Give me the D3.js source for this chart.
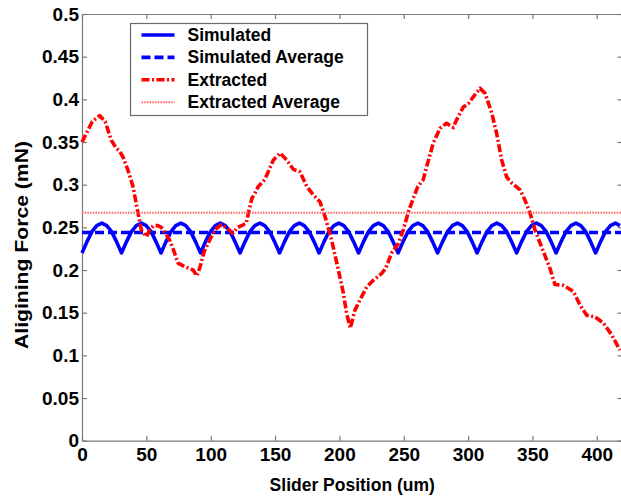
<!DOCTYPE html>
<html>
<head>
<meta charset="utf-8">
<script src="https://cdn.jsdelivr.net/npm/d3@7/dist/d3.min.js"></script>
<style>
  body { margin: 0; background: #fff; }
  text { font-family: "Liberation Sans", Arial, sans-serif; font-weight: bold; }
</style>
</head>
<body>
<div id="chart-area"></div>
<script>
/*
*    aligning force chart
*/

// x ticks and y ticks
const xTicks = [0, 50, 100, 150, 200, 250, 300, 350, 400];
const yTicks = [0, 0.05, 0.1, 0.15, 0.2, 0.25, 0.3, 0.35, 0.4, 0.45, 0.5];

// simulated force (um, mN)
const simX = [0.0, 3.8, 7.7, 11.5, 15.4, 19.2, 23.0, 26.9, 30.7, 34.5, 38.4, 42.2, 46.1, 49.9, 53.7, 57.6,
    61.4, 65.2, 69.1, 72.9, 76.8, 80.6, 84.4, 88.3, 92.1, 95.9, 99.8, 103.6, 107.5, 111.3, 115.1, 119.0,
    122.8, 126.6, 130.5, 134.3, 138.2, 142.0, 145.8, 149.7, 153.5, 157.3, 161.2, 165.0, 168.9, 172.7, 176.5, 180.4,
    184.2, 188.0, 191.9, 195.7, 199.6, 203.4, 207.2, 211.1, 214.9, 218.7, 222.6, 226.4, 230.3, 234.1, 237.9, 241.8,
    245.6, 249.4, 253.3, 257.1, 261.0, 264.8, 268.6, 272.5, 276.3, 280.1, 284.0, 287.8, 291.7, 295.5, 299.3, 303.2,
    307.0, 310.8, 314.7, 318.5, 322.4, 326.2, 330.0, 333.9, 337.7, 341.5, 345.4, 349.2, 353.1, 356.9, 360.7, 364.6,
    368.4, 372.2, 376.1, 379.9, 383.8, 387.6, 391.4, 395.3, 399.1, 402.9, 406.8, 410.6, 414.5, 418.0];
const simY = [0.220, 0.233, 0.245, 0.252, 0.255, 0.252, 0.245, 0.233, 0.220, 0.233, 0.245, 0.252, 0.255, 0.252, 0.245, 0.233,
    0.220, 0.233, 0.245, 0.252, 0.255, 0.252, 0.245, 0.233, 0.220, 0.233, 0.245, 0.252, 0.255, 0.252, 0.245, 0.233,
    0.220, 0.233, 0.245, 0.252, 0.255, 0.252, 0.245, 0.233, 0.220, 0.233, 0.245, 0.252, 0.255, 0.252, 0.245, 0.233,
    0.220, 0.233, 0.245, 0.252, 0.255, 0.252, 0.245, 0.233, 0.220, 0.233, 0.245, 0.252, 0.255, 0.252, 0.245, 0.233,
    0.220, 0.233, 0.245, 0.252, 0.255, 0.252, 0.245, 0.233, 0.220, 0.233, 0.245, 0.252, 0.255, 0.252, 0.245, 0.233,
    0.220, 0.233, 0.245, 0.252, 0.255, 0.252, 0.245, 0.233, 0.220, 0.233, 0.245, 0.252, 0.255, 0.252, 0.245, 0.233,
    0.220, 0.233, 0.245, 0.252, 0.255, 0.252, 0.245, 0.233, 0.220, 0.233, 0.245, 0.252, 0.255, 0.252];
const simAverage = 0.244;

// extracted force (um, mN)
const extX = [0, 4, 8, 13.7, 18, 22.8, 26, 29.3, 32, 35.7, 39.6, 43.5, 46.1, 50, 53, 55.5,
    59, 61.6, 65, 68.1, 71, 74.6, 79.8, 86.3, 89.3, 92, 94.8, 97.9, 103.1, 108.3, 113, 117.3,
    121, 125.3, 127.7, 129.2, 132, 134.4, 137, 140.9, 143.5, 148.7, 153.9, 159, 164.2, 169.4, 174.6, 179.7,
    184.9, 188.8, 194, 199.2, 203.1, 205.6, 208.5, 212.1, 216, 221.2, 226.4, 232.9, 236, 240.6, 245.8, 249.7,
    253.6, 257.4, 261, 265.2, 267.8, 273, 278.2, 283.4, 288.5, 291.1, 296.3, 300.2, 304.1, 309.3, 313.2, 318.4,
    322.2, 326.1, 330, 333.9, 340.4, 344.2, 348.1, 352, 358.4, 363.6, 367.5, 374, 381.8, 387, 392.2, 398.6,
    405.1, 411.6, 418];
const extY = [0.350, 0.362, 0.374, 0.381, 0.374, 0.352, 0.344, 0.339, 0.332, 0.317, 0.298, 0.267, 0.247, 0.239, 0.248, 0.252,
    0.252, 0.250, 0.243, 0.235, 0.224, 0.208, 0.204, 0.200, 0.193, 0.205, 0.221, 0.231, 0.247, 0.253, 0.249, 0.243,
    0.250, 0.253, 0.255, 0.266, 0.284, 0.290, 0.298, 0.304, 0.311, 0.329, 0.337, 0.329, 0.318, 0.315, 0.298, 0.288,
    0.280, 0.263, 0.235, 0.200, 0.173, 0.149, 0.132, 0.153, 0.165, 0.180, 0.188, 0.196, 0.202, 0.220, 0.231, 0.247,
    0.268, 0.284, 0.298, 0.306, 0.321, 0.349, 0.366, 0.372, 0.367, 0.376, 0.391, 0.395, 0.403, 0.413, 0.407, 0.384,
    0.360, 0.329, 0.309, 0.302, 0.294, 0.282, 0.267, 0.247, 0.222, 0.202, 0.183, 0.182, 0.175, 0.159, 0.147, 0.145,
    0.138, 0.124, 0.106];
const extAverage = 0.267;

const legendLabels = ["Simulated", "Simulated Average", "Extracted", "Extracted Average"];

const svgWidth = 621;
const svgHeight = 497;
const margin = {left: 82, top: 14, right: -1.5, bottom: 56.3};
const width = svgWidth - margin.left - margin.right;
const height = svgHeight - margin.top - margin.bottom;

const svg = d3.select("#chart-area")
    .append("svg")
    .attr("width", svgWidth)
    .attr("height", svgHeight);

svg.append("rect")
    .attr("width", "100%")
    .attr("height", "100%")
    .attr("fill", "white");

const g = svg.append("g")
    .attr("transform", "translate(" + margin.left + "," + margin.top + ")");

const x = d3.scaleLinear()
    .domain([0, 420])
    .range([0, width]);

const y = d3.scaleLinear()
    .domain([0, 0.5])
    .range([height, 0]);

// axes, ticks pointing inward
g.append("g")
    .attr("class", "axis")
    .attr("transform", "translate(0," + height + ")")
    .call(d3.axisBottom(x).tickValues(xTicks).tickSizeInner(-5).tickSizeOuter(0).tickPadding(7));

g.append("g")
    .attr("class", "axis")
    .call(d3.axisTop(x).tickValues(xTicks).tickSizeInner(-5).tickSizeOuter(0).tickFormat(""));

g.append("g")
    .attr("class", "axis")
    .call(d3.axisLeft(y).tickValues(yTicks).tickSizeInner(-5).tickSizeOuter(0).tickPadding(3)
        .tickFormat(d => d3.format("")(+d.toFixed(2))));

g.append("g")
    .attr("class", "axis")
    .attr("transform", "translate(" + width + ",0)")
    .call(d3.axisRight(y).tickValues(yTicks).tickSizeInner(-5).tickSizeOuter(0).tickFormat(""));

g.selectAll(".axis path, .axis line")
    .attr("stroke", "#7a7a7a")
    .attr("stroke-width", 1.2);

g.selectAll(".axis text")
    .attr("fill", "black")
    .attr("font-size", "19px")
    .attr("font-family", "'Liberation Sans', Arial, sans-serif")
    .attr("font-weight", "bold");

// axis labels
g.append("text")
    .attr("x", width / 2)
    .attr("y", height + 50)
    .attr("font-size", "17.5px")
    .attr("text-anchor", "middle")
    .text("Slider Position (um)");

g.append("text")
    .attr("x", -231)
    .attr("y", -54)
    .attr("font-size", "18px")
    .attr("text-anchor", "middle")
    .attr("transform", "rotate(-90)")
    .attr("textLength", 208)
    .attr("lengthAdjust", "spacingAndGlyphs")
    .text("Aligining Force (mN)");

// lines
const simData = simX.map((d, i) => ({x: d, y: simY[i]}));
const extData = extX.map((d, i) => ({x: d, y: extY[i]}));

const line = d3.line()
    .x(d => x(d.x))
    .y(d => y(d.y));

const styles = [
    {color: "#0000ff", width: 3.6, dash: null},
    {color: "#0000ff", width: 3.6, dash: "9,4"},
    {color: "#ff0000", width: 3.6, dash: "8,2.5,2,2.5"},
    {color: "#ff6060", width: 2, dash: "1.5,1.2"}
];

g.append("path")
    .datum(simData)
    .attr("d", line)
    .attr("fill", "none")
    .attr("stroke", styles[0].color)
    .attr("stroke-width", styles[0].width)
    .attr("stroke-linejoin", "round");

g.append("line")
    .attr("x1", x(0))
    .attr("x2", x(420))
    .attr("y1", y(simAverage))
    .attr("y2", y(simAverage))
    .attr("stroke", styles[1].color)
    .attr("stroke-width", styles[1].width)
    .attr("stroke-dasharray", styles[1].dash);

g.append("path")
    .datum(extData)
    .attr("d", line)
    .attr("fill", "none")
    .attr("stroke", styles[2].color)
    .attr("stroke-width", styles[2].width)
    .attr("stroke-dasharray", styles[2].dash)
    .attr("stroke-linejoin", "round");

g.append("line")
    .attr("x1", x(0))
    .attr("x2", x(420))
    .attr("y1", y(extAverage))
    .attr("y2", y(extAverage))
    .attr("stroke", styles[3].color)
    .attr("stroke-width", styles[3].width)
    .attr("stroke-dasharray", styles[3].dash);

// legend
const legend = svg.append("g")
    .attr("transform", "translate(130.5, 23.5)");

legend.append("rect")
    .attr("width", 237)
    .attr("height", 92)
    .attr("fill", "white")
    .attr("stroke", "#6a6a6a")
    .attr("stroke-width", 1.2);

const items = legend.selectAll(".item")
    .data(legendLabels)
    .enter()
    .append("g")
        .attr("class", "item")
        .attr("transform", (d, i) => "translate(0," + (11.5 + i * 22.4) + ")");

items.append("line")
    .attr("x1", 11)
    .attr("x2", 44)
    .attr("stroke", (d, i) => styles[i].color)
    .attr("stroke-width", (d, i) => styles[i].width)
    .attr("stroke-dasharray", (d, i) => styles[i].dash);

items.append("text")
    .attr("x", 57)
    .attr("y", 6)
    .attr("font-size", "17.5px")
    .text(d => d);
</script>
</body>
</html>
